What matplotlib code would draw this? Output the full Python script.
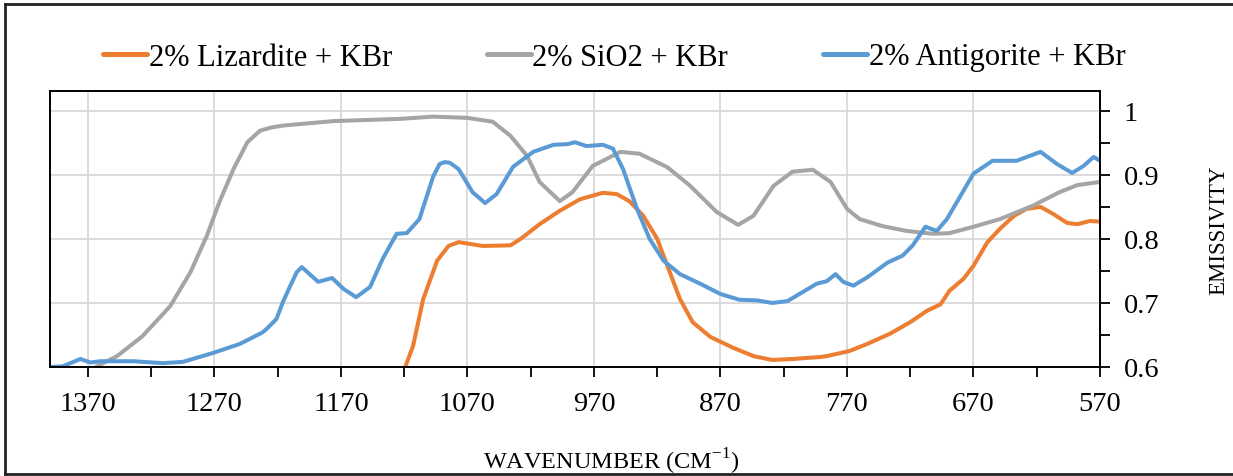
import numpy as np
import matplotlib
matplotlib.use("Agg")
import matplotlib.pyplot as plt
from matplotlib.ticker import FixedLocator, FuncFormatter
from matplotlib.lines import Line2D

plt.rcParams["font.family"] = ["Liberation Serif", "DejaVu Serif"]
plt.rcParams["mathtext.fontset"] = "custom"
plt.rcParams["mathtext.rm"] = "Liberation Serif"

# --- data (wavenumber cm-1, emissivity) ---
sio2_wn = [1364, 1347, 1327, 1305, 1289, 1276, 1266, 1255, 1244, 1234, 1225, 1216,
           1176, 1123, 1097, 1070, 1050, 1036, 1023, 1013, 997, 987, 971, 949, 934,
           912, 894, 873, 856, 844, 828, 813, 797, 783, 770, 760, 742, 723, 702, 689,
           670, 649, 623, 602, 588, 570]
sio2_em = [0.600, 0.617, 0.648, 0.695, 0.748, 0.805, 0.858, 0.909, 0.951, 0.969, 0.974, 0.977,
           0.984, 0.9875, 0.991, 0.989, 0.983, 0.961, 0.930, 0.889, 0.859, 0.873, 0.914, 0.936, 0.933,
           0.912, 0.883, 0.842, 0.822, 0.836, 0.883, 0.905, 0.908, 0.889, 0.847, 0.831, 0.820, 0.8125, 0.808, 0.809,
           0.819, 0.831, 0.852, 0.873, 0.884, 0.889]

antig_wn = [1400, 1390, 1376, 1368, 1360, 1334, 1311, 1295, 1271, 1250, 1232, 1229, 1221,
            1216, 1210, 1205, 1201, 1188, 1177, 1168, 1158, 1147, 1137, 1126, 1118, 1108,
            1097, 1092, 1088, 1084, 1077, 1066, 1056, 1047, 1034, 1018, 1002, 991, 985, 976,
            963, 955, 947, 936, 926, 915, 902, 886, 870, 855, 841, 829, 817, 805, 794, 786,
            779, 773, 765, 754, 738, 726, 718, 708, 699, 691, 683, 670, 655, 636, 617, 604,
            592, 583, 575, 570]
antig_em = [0.600, 0.601, 0.6125, 0.607, 0.609, 0.609, 0.606, 0.608, 0.622, 0.636, 0.654, 0.659, 0.675,
            0.701, 0.727, 0.748, 0.756, 0.733, 0.739, 0.722, 0.709, 0.725, 0.769, 0.808, 0.809, 0.831,
            0.898, 0.917, 0.920, 0.919, 0.909, 0.873, 0.856, 0.870, 0.9125, 0.936, 0.947, 0.948, 0.951, 0.945,
            0.947, 0.941, 0.909, 0.847, 0.800, 0.766, 0.745, 0.730, 0.714, 0.705, 0.704, 0.700, 0.703, 0.717, 0.730, 0.734,
            0.745, 0.733, 0.727, 0.740, 0.763, 0.774, 0.790, 0.819, 0.8125, 0.831, 0.858, 0.902, 0.922, 0.922, 0.936, 0.917,
            0.903, 0.914, 0.928, 0.922]

liz_wn = [1119, 1113, 1105, 1094, 1085, 1077, 1058, 1036, 1028, 1013, 997, 981, 963, 952,
          942, 931, 920, 912, 902, 892, 878, 860, 844, 829, 813, 791, 786, 768, 754, 736,
          720, 707, 696, 689, 678, 670, 659, 649, 638, 628, 617, 607, 596, 588, 578, 570]
liz_em = [0.601, 0.633, 0.706, 0.766, 0.789, 0.795, 0.789, 0.790, 0.800, 0.823, 0.844, 0.862, 0.872, 0.870,
          0.859, 0.836, 0.800, 0.758, 0.706, 0.670, 0.647, 0.630, 0.617, 0.611, 0.6125, 0.6156, 0.617, 0.625, 0.636, 0.652,
          0.670, 0.6875, 0.698, 0.719, 0.7375, 0.758, 0.795, 0.816, 0.836, 0.847, 0.850, 0.839, 0.825, 0.823, 0.828, 0.827]

x_major = np.arange(570, 1371, 100)
x_minor = np.arange(620, 1400, 100)

fig = plt.figure(figsize=(12.33, 4.77), dpi=100)
ax = fig.add_axes([50 / 1233, 1 - 368 / 477, 1050 / 1233, 276 / 477])

lw = 2.9
style = dict(lw=lw, solid_capstyle="round", solid_joinstyle="round")
ax.plot(liz_wn, liz_em, color="#ED7D31", label="2% Lizardite + KBr", **style)
ax.plot(sio2_wn, sio2_em, color="#A5A5A5", label="2% SiO2 + KBr", **style)
ax.plot(antig_wn, antig_em, color="#5B9BD5", label="2% Antigorite + KBr", **style)

ax.set_xlim(1400, 570)
ax.set_ylim(0.6, 1.031)

ax.xaxis.set_major_locator(FixedLocator(x_major))
ax.xaxis.set_minor_locator(FixedLocator(x_minor))
ax.yaxis.set_major_locator(FixedLocator([0.6, 0.7, 0.8, 0.9, 1.0]))
ax.yaxis.set_minor_locator(FixedLocator([0.65, 0.75, 0.85, 0.95]))
ax.yaxis.set_major_formatter(FuncFormatter(lambda v, p: f"{v:g}"))
ax.yaxis.tick_right()

ax.tick_params(axis="both", which="both", direction="out", length=7, width=1.3, color="black")
ax.tick_params(axis="x", which="major", labelsize=20.5, pad=10)
ax.tick_params(axis="y", which="major", labelsize=20.5, pad=10)

ax.grid(True, which="major", color="#d9d9d9", lw=1.3)
ax.set_axisbelow(True)
for s in ax.spines.values():
    s.set_linewidth(1.4)
    s.set_color("black")

ax.set_ylabel("EMISSIVITY", fontsize=16.5)
ax.yaxis.set_label_position("right")
ax.yaxis.set_label_coords((1208 - 50) / 1050, 0.5)

fig.text(611 / 1233, 1 - 462 / 477, "WAVENUMBER (CM$^{\\mathregular{-1}}$)",
         fontsize=17.5, ha="center", va="center")

leg = fig.legend(loc="center", bbox_to_anchor=(614 / 1233, 1 - 58 / 477), ncol=3, frameon=False,
                 fontsize=22, handlelength=1.45, handletextpad=0.05, columnspacing=3.1)
for h in leg.get_lines():
    h.set_linewidth(3.6)

# outer frame (open on the right)
frame_kw = dict(color="#222222", lw=2, transform=fig.transFigure)
fig.add_artist(Line2D([5 / 1233, 1], [1 - 5 / 477, 1 - 5 / 477], **frame_kw))
fig.add_artist(Line2D([5 / 1233, 5 / 1233], [1 - 5 / 477, 1 - 475 / 477], **frame_kw))
fig.add_artist(Line2D([5 / 1233, 1], [1 - 475 / 477, 1 - 475 / 477], **frame_kw))

fig.savefig("out.png", dpi=100, facecolor="white")
